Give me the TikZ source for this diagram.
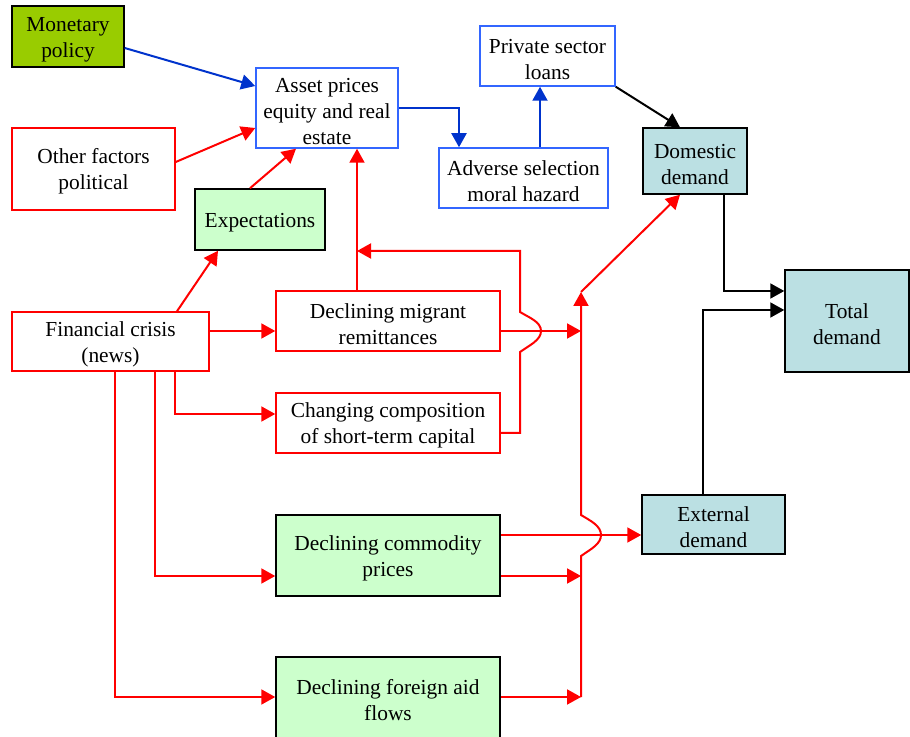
\documentclass[tikz,border=0pt]{standalone}
\usepackage{fontspec}
\setmainfont{Liberation Serif}
\usetikzlibrary{arrows.meta}
\definecolor{monfill}{RGB}{153,204,0}
\definecolor{lgreen}{RGB}{204,255,204}
\definecolor{lblue}{RGB}{187,224,227}
\definecolor{bblue}{RGB}{51,102,255}
\definecolor{ablue}{RGB}{0,51,204}
\newcommand{\tstrut}{\rule{0pt}{10.2pt}}
\begin{document}
\begin{tikzpicture}[x=0.5pt,y=-0.5pt,
  box/.style={draw, line width=0.75pt, inner sep=0pt, align=center,
    font=\fontsize{10.7}{13}\selectfont, text=black},
  redbox/.style={box, draw=red},
  bluebox/.style={box, draw=bblue},
  greenbox/.style={box, draw=black, fill=lgreen},
  demandbox/.style={box, draw=black, fill=lblue},
  arr/.style={line width=1pt, -{Triangle[length=7pt,width=7.5pt]}},
  ra/.style={arr, draw=red},
  ba/.style={arr, draw=ablue},
  ka/.style={arr, draw=black}
]
\useasboundingbox (0,0) rectangle (910,737);

% nodes
\node[box, draw=black, fill=monfill, minimum width=56pt, minimum height=30.5pt] (mon) at (68,36.5) {\tstrut Monetary\\policy};
\node[redbox, minimum width=81.5pt, minimum height=41pt] (oth) at (93.5,169) {\tstrut Other factors\\political};
\node[greenbox, minimum width=65pt, minimum height=30.5pt] (exp) at (260,219.5) {\tstrut Expectations};
\node[bluebox, minimum width=71pt, minimum height=40pt] (ast) at (327,108) {\tstrut Asset prices\\equity and real\\estate};
\node[bluebox, minimum width=67.5pt, minimum height=30pt] (prv) at (547.5,56) {\tstrut Private sector\\loans};
\node[bluebox, minimum width=84.5pt, minimum height=30pt] (adv) at (523.5,178) {\tstrut Adverse selection\\moral hazard};
\node[demandbox, minimum width=52pt, minimum height=33pt] (dom) at (695,161) {\tstrut Domestic\\demand};
\node[demandbox, minimum width=62pt, minimum height=51pt] (tot) at (847,321) {\tstrut Total\\demand};
\node[demandbox, minimum width=71.5pt, minimum height=29.5pt] (ext) at (713.5,524.5) {\tstrut External\\demand};
\node[redbox, minimum width=98.5pt, minimum height=29.5pt] (fin) at (110.5,341.5) {\tstrut Financial crisis\\(news)};
\node[redbox, minimum width=112pt, minimum height=30pt] (mig) at (388,321) {\tstrut Declining migrant\\remittances};
\node[redbox, minimum width=112pt, minimum height=30pt] (chg) at (388,423) {\tstrut Changing composition\\of short-term capital};
\node[greenbox, minimum width=112pt, minimum height=40.5pt] (com) at (388,555.5) {\tstrut Declining commodity\\prices};
\node[greenbox, minimum width=112pt, minimum height=40.5pt] (aid) at (388,697.5) {\tstrut Declining foreign aid\\flows};

% junction coordinates
\coordinate (j1) at (357,251);
\coordinate (bm) at (581,331);
\coordinate (bc) at (581,576);
\coordinate (ba) at (581,697);
\coordinate (bt) at (581,292);

% blue connectors
\draw[ba] (mon.east |- 0,48) -- (ast.west |- 0,86);
\draw[ba] (ast.east) -- (459,108) -- (adv.north -| 459,0);
\draw[ba] (adv.north -| 540,0) -- (prv.south -| 540,0);

% black connectors
\draw[ka] (prv.south east) -- (dom.north -| 680,0);
\draw[ka] (dom.south -| 724,0) |- (tot.west |- 0,291);
\draw[ka] (ext.north -| 703,0) |- (tot.west |- 0,310);

% red connectors
\draw[ra] (oth.east |- 0,162) -- (ast.west |- 0,128);
\draw[ra] (exp.north -| 250,0) -- (ast.south -| 296,0);
\draw[ra] (fin.north -| 177,0) -- (exp.south -| 218,0);
\draw[ra] (fin.east |- 0,331) -- (mig.west |- 0,331);
\draw[ra] (fin.south -| 175,0) |- (chg.west |- 0,414);
\draw[ra] (fin.south -| 155,0) |- (com.west |- 0,576);
\draw[ra] (fin.south -| 115,0) |- (aid.west |- 0,697);
\draw[ra] (mig.north -| j1) -- (ast.south -| j1);
\draw[ra] (chg.east |- 0,433) -- (520,433) -- (520,352)
  .. controls (530,345) and (541,340) .. (541,331)
  .. controls (541,322) and (530,318) .. (520,312)
  -- (520,251) -- (j1);
\draw[ra] (mig.east |- bm) -- (bm);
\draw[ra] (com.east |- 0,535) -- (ext.west |- 0,535);
\draw[ra] (com.east |- bc) -- (bc);
\draw[ra] (aid.east |- ba) -- (ba);
\draw[ra] (ba) -- (581,556)
  .. controls (591,549) and (601,544) .. (601,535)
  .. controls (601,526) and (591,521) .. (581,515)
  -- (bt);
\draw[ra] (bt) -- (dom.south -| 680,0);
\end{tikzpicture}
\end{document}
